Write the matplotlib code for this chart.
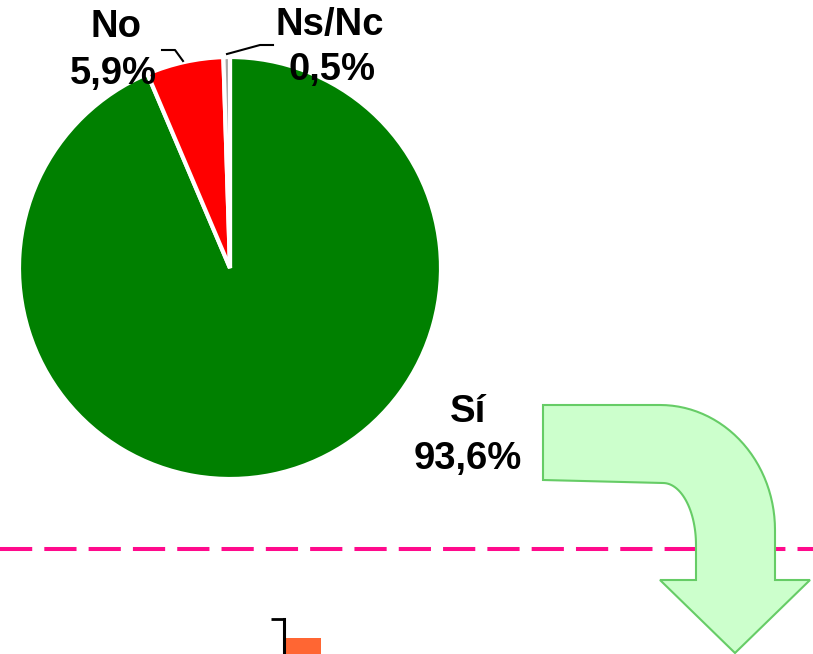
import numpy as np
import matplotlib
matplotlib.use("Agg")
import matplotlib.pyplot as plt
from matplotlib.path import Path
from matplotlib.patches import PathPatch

# ---- data ----
pie_labels = ["Sí", "No", "Ns/Nc"]
pie_values = [93.6, 5.9, 0.5]
pie_colors = ["#008000", "#FF0000", "#A6A6A6"]
pie_texts = ["93,6%", "5,9%", "0,5%"]

bar_categories = [""]
bar_values = [11.4]

W, H = 813, 654
plt.rcParams['font.family'] = ['Liberation Sans', 'DejaVu Sans']
fig = plt.figure(figsize=(W / 100, H / 100), dpi=100)

# ---- pie ----
cx, cy, r = 230, 268, 211
axp = fig.add_axes([(cx - r) / W, (H - cy - r) / H, 2 * r / W, 2 * r / H])
axp.pie(pie_values, colors=pie_colors, startangle=90, counterclock=False,
        wedgeprops=dict(edgecolor="white", linewidth=3))
axp.set_xlim(-1, 1)
axp.set_ylim(-1, 1)
axp.axis("off")

# ---- bottom bar chart fragment ----
axb = fig.add_axes([284 / W, -0.2, 0.4, (H - 619) / H + 0.2])
axb.barh([0], bar_values, height=0.8, color="#FF6633", zorder=1)
axb.set_xlim(0, 100)
axb.set_ylim(1.145, -0.6)
for s in ["top", "right", "bottom"]:
    axb.spines[s].set_visible(False)
axb.spines["left"].set_linewidth(2.2)
axb.spines["left"].set_zorder(3)
axb.set_yticks([-0.6])
axb.set_yticklabels([""])
axb.tick_params(axis="y", length=9.5, width=2, direction="out")
axb.set_xticks([])
axb.patch.set_alpha(0)

# ---- overlay (pixel coordinates) ----
ov = fig.add_axes([0, 0, 1, 1])
ov.set_xlim(0, W)
ov.set_ylim(H, 0)
ov.axis("off")
ov.patch.set_alpha(0)

ov.axhline(549, color="#FF0A8C", linewidth=2.9, dashes=(8, 3),
           solid_capstyle="butt", dash_capstyle="butt", zorder=1)

# curved arrow
t = np.linspace(0, np.pi / 2, 30)
outer = np.column_stack([660 + 115 * np.sin(t), 530 - 125 * np.cos(t)])
inner = np.column_stack([663 + 33 * np.cos(t), 545 - 62 * np.sin(t)])
pts = [(543, 405)] + [tuple(p) for p in outer] + [
    (775, 580), (810, 580), (735, 653), (660, 580), (696, 580)] + \
    [tuple(p) for p in inner] + [(543, 480), (543, 405)]
codes = [Path.MOVETO] + [Path.LINETO] * (len(pts) - 2) + [Path.CLOSEPOLY]
ov.add_patch(PathPatch(Path(pts, codes), facecolor="#CCFFCC",
                       edgecolor="#66CC66", linewidth=1.5, zorder=3))

# leader lines
ov.plot([162, 175, 183], [50, 50, 61], color="black", linewidth=1.5, zorder=4)
ov.plot([227, 260, 273], [54, 45, 45], color="black", linewidth=1.5, zorder=4)

tk = dict(fontsize=22, fontweight="bold", ha="center", va="center", zorder=5)
items = [
    (116, 27, pie_labels[1], 43),
    (113, 74, pie_texts[1], 84),
    (330, 25, pie_labels[2], 102),
    (332, 70, pie_texts[2], 84),
    (468, 412, pie_labels[0], 40),
    (468, 459, pie_texts[0], 107),
]
texts = [ov.text(x, y, s, **tk) for x, y, s, _ in items]

# fit the shared font size so label widths match the reference
renderer = fig.canvas.get_renderer()
ratios = []
for txt, (_, _, _, wt) in zip(texts, items):
    bb = txt.get_window_extent(renderer)
    ratios.append((wt + 3) / bb.width)
scale = float(np.median(ratios))
for txt in texts:
    txt.set_fontsize(22 * scale)

fig.savefig("out.png", dpi=100)
